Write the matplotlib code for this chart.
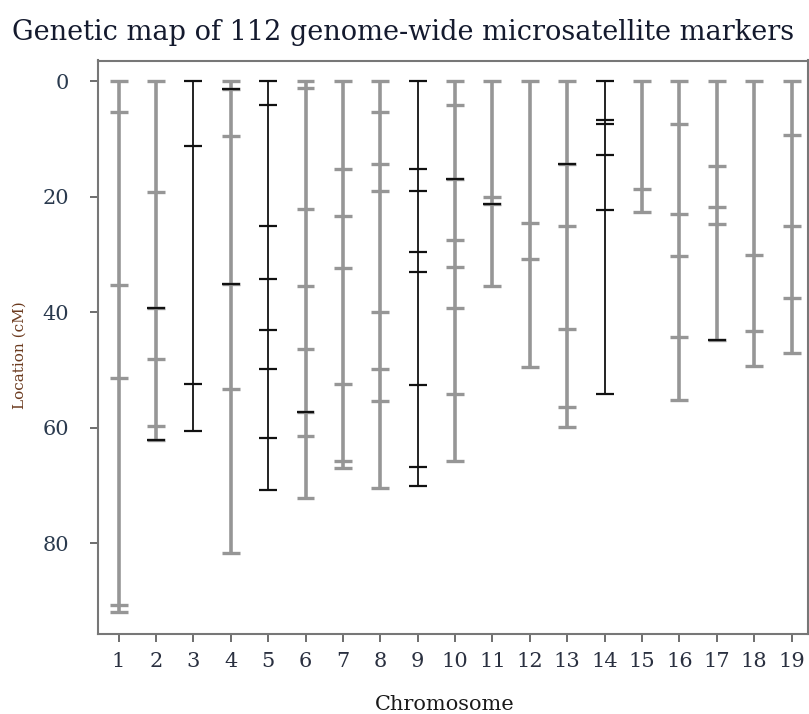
import matplotlib.pyplot as plt

# marker positions (cM) along each chromosome
chr1 = [0, 5.3, 35.2, 51.4, 90.7, 91.9]
chr2 = [0, 19.1, 39.3, 48.0, 59.6, 62.1]
chr3 = [0, 11.2, 52.4, 60.6]
chr4 = [0, 1.4, 9.4, 35.1, 53.2, 81.6]
chr5 = [0, 4.1, 25.1, 34.3, 43.1, 49.8, 61.8, 70.8]
chr6 = [0, 1.1, 22.1, 35.4, 46.4, 57.2, 61.4, 72.1]
chr7 = [0, 15.2, 23.4, 32.3, 52.4, 65.8, 67.0]
chr8 = [0, 5.3, 14.3, 19.0, 40.0, 49.8, 55.4, 70.4]
chr9 = [0, 15.2, 19.0, 29.6, 33.0, 52.6, 66.8, 70.1]
chr10 = [0, 4.1, 17.0, 27.5, 32.2, 39.3, 54.1, 65.8]
chr11 = [0, 20.1, 21.2, 35.4]
chr12 = [0, 24.6, 30.7, 49.4]
chr13 = [0, 14.3, 25.1, 42.8, 56.4, 59.8]
chr14 = [0, 6.7, 7.4, 12.7, 22.3, 54.2]
chr15 = [0, 18.7, 22.7]
chr16 = [0, 7.4, 22.9, 30.2, 44.2, 55.2]
chr17 = [0, 14.7, 21.7, 24.7, 44.8]
chr18 = [0, 30.0, 43.2, 49.3]
chr19 = [0, 9.3, 25.1, 37.5, 47.0]

markers = [chr1, chr2, chr3, chr4, chr5, chr6, chr7, chr8, chr9, chr10,
           chr11, chr12, chr13, chr14, chr15, chr16, chr17, chr18, chr19]
chromosomes = list(range(1, len(markers) + 1))
y_ticks = [0, 20, 40, 60, 80]

# chromosomes drawn with a thin dark line instead of the wide grey one
dark = [3, 5, 9, 14]
# single markers on grey chromosomes drawn dark: (chromosome, marker index)
dark_markers = [(2, 2), (2, 5), (4, 1), (4, 3), (6, 5), (10, 2),
                (11, 2), (13, 1), (17, 4)]

serif = ['DejaVu Serif']

fig = plt.figure(figsize=(8.09, 7.14), dpi=100)
ax = fig.add_axes([98 / 809, 1 - 633.5 / 714, 710 / 809, 573 / 714])

half = 0.24
for c, pos in zip(chromosomes, markers):
    if c in dark:
        col, lw, tlw = '#111111', 1.3, 1.6
    else:
        col, lw, tlw = '#969696', 2.6, 2.4
    ax.vlines(c, min(pos), max(pos), color=col, lw=lw)
    ax.hlines(pos, c - half, c + half, color=col, lw=tlw)

for c, i in dark_markers:
    y = markers[c - 1][i]
    ax.hlines(y, c - half, c + half, color='#111111', lw=1.6, zorder=3)

ax.set_xlim(0.45, 19.44)
ax.set_ylim(95.6, -3.6)

ax.set_xticks(chromosomes)
ax.set_xticklabels([str(c) for c in chromosomes], family=serif, fontsize=15,
                   color='#2a3040')
ax.set_yticks(y_ticks)
ax.set_yticklabels([str(t) for t in y_ticks], family=serif, fontsize=15,
                   color='#2a3a4e')
ax.tick_params(axis='both', length=6, width=1.2, color='#555555')
ax.tick_params(axis='x', pad=7)
ax.tick_params(axis='y', pad=15)

for s in ax.spines.values():
    s.set_color('#777777')
    s.set_linewidth(1.5)

fig.text(445 / 809, 1 - 704 / 714, 'Chromosome', family=serif, fontsize=15,
         color='#1a1a1a', ha='center', va='center')
fig.text(20 / 809, 1 - 355 / 714, 'Location (cM)', rotation=90, family=serif,
         fontsize=11, color='#6b3a1e', ha='center', va='center')

fig.text(403 / 809, 1 - 33 / 714,
         'Genetic map of 112 genome-wide microsatellite markers',
         family=serif, fontsize=19.5, color='#141a2e', ha='center', va='center')

fig.savefig('out.png', dpi=100)
